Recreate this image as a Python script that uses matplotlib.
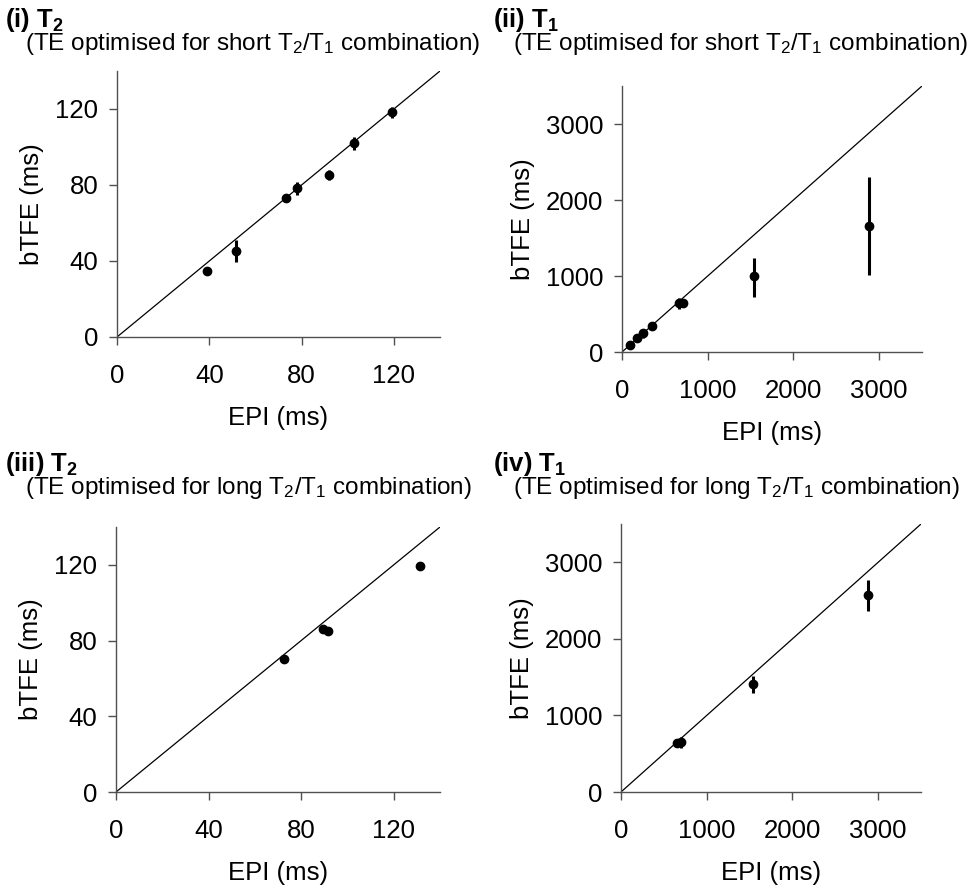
import numpy as np
import matplotlib
matplotlib.use("Agg")
import matplotlib.pyplot as plt

plt.rcParams['font.family'] = ['Liberation Sans', 'DejaVu Sans']
plt.rcParams['mathtext.fontset'] = 'custom'
plt.rcParams['mathtext.rm'] = 'Liberation Sans'
plt.rcParams['mathtext.bf'] = 'Liberation Sans:bold'
plt.rcParams['mathtext.it'] = 'Liberation Sans:italic'

# (i) T2, TE optimised for short T2/T1
t2s_epi = [39, 51.7, 73.2, 78.1, 91.9, 102.6, 119.1]
t2s_btfe = [35, 45.4, 73.0, 78.3, 85.3, 102.0, 118.3]
t2s_err = [1.0, 5.9, 1.0, 3.5, 2.8, 3.5, 2.8]

# (ii) T1, TE optimised for short T2/T1
t1s_epi = [93, 175, 250, 355, 667, 717, 1536, 2881]
t1s_btfe = [96, 188, 245, 337, 640, 648, 995, 1653]
t1s_err_lo = [20, 30, 60, 30, 72, 50, 272, 645]
t1s_err_hi = [20, 30, 60, 30, 72, 50, 241, 649]

# (iii) T2, TE optimised for long T2/T1
t2l_epi = [72.5, 89.4, 91.6, 131.4]
t2l_btfe = [70.4, 85.9, 85.0, 119.4]
t2l_err = [0.5, 0.5, 0.5, 0.5]

# (iv) T1, TE optimised for long T2/T1
t1l_epi = [657, 704, 1540, 2878]
t1l_btfe = [639, 652, 1412, 2573]
t1l_err_lo = [20, 78, 122, 209]
t1l_err_hi = [20, 65, 109, 196]

t2_ticks = [0, 40, 80, 120]
t1_ticks = [0, 1000, 2000, 3000]

W, H = 976, 890
fig = plt.figure(figsize=(W / 100, H / 100), dpi=100)


def box(x0, y_top, x1, y_bot):
    return [x0 / W, 1 - y_bot / H, (x1 - x0) / W, (y_bot - y_top) / H]


panels = [
    dict(rect=box(117, 71, 440, 337), x=t2s_epi, y=t2s_btfe, err=t2s_err,
         lim=140, ticks=t2_ticks, tag=r"(i) T$_{\mathbf{2}}$", kind="short",
         tpos=(5, 20)),
    dict(rect=box(622, 86, 922, 352), x=t1s_epi, y=t1s_btfe,
         err=[t1s_err_lo, t1s_err_hi], lim=3500, ticks=t1_ticks,
         tag=r"(ii) T$_{\mathbf{1}}$", kind="short", tpos=(493, 20)),
    dict(rect=box(116, 527, 440, 792), x=t2l_epi, y=t2l_btfe, err=t2l_err,
         lim=140, ticks=t2_ticks, tag=r"(iii) T$_{\mathbf{2}}$", kind="long",
         tpos=(5, 464)),
    dict(rect=box(621, 524, 921, 792), x=t1l_epi, y=t1l_btfe,
         err=[t1l_err_lo, t1l_err_hi], lim=3500, ticks=t1_ticks,
         tag=r"(iv) T$_{\mathbf{1}}$", kind="long", tpos=(493, 464)),
]

for p in panels:
    ax = fig.add_axes(p["rect"])
    ax.plot([0, p["lim"]], [0, p["lim"]], color="black", lw=0.9)
    ax.errorbar(p["x"], p["y"], yerr=p["err"], fmt="o", color="black",
                ms=6, elinewidth=2.2, capsize=0, clip_on=False)
    ax.set_xlim(0, p["lim"])
    ax.set_ylim(0, p["lim"])
    ax.set_xticks(p["ticks"])
    ax.set_yticks(p["ticks"])
    for s in ["top", "right"]:
        ax.spines[s].set_visible(False)
    for s in ["left", "bottom"]:
        ax.spines[s].set_color("#505050")
        ax.spines[s].set_linewidth(1.0)
    ax.tick_params(axis="both", direction="out", length=5.5, width=1.0,
                   color="#505050", labelsize=18.5)
    ax.tick_params(axis="x", pad=14)
    ax.tick_params(axis="y", pad=8)
    ax.set_xlabel("EPI (ms)", fontsize=18.5, labelpad=13)
    ax.set_ylabel("bTFE (ms)", fontsize=18.5, labelpad=8)

    tx, ty = p["tpos"]
    fig.text(tx / W, 1 - ty / H, p["tag"], fontsize=18.5, fontweight="bold",
             va="center", ha="left")
    fig.text((tx + 20) / W, 1 - (ty + 24) / H,
             "(TE optimised for %s T$_2$/T$_1$ combination)" % p["kind"],
             fontsize=17.5, va="center", ha="left")

fig.savefig("out.png", dpi=100)
